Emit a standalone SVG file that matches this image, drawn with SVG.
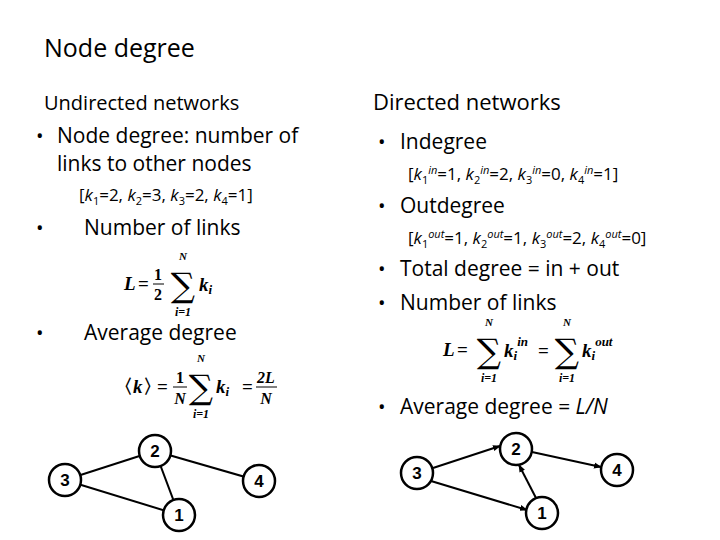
<svg xmlns="http://www.w3.org/2000/svg" width="720" height="540" viewBox="0 0 720 540">
<style>
.t{font-family:"Open Sans","Liberation Sans",sans-serif;fill:#000}
.m{font-family:"Liberation Serif",serif;font-weight:bold;font-style:italic;fill:#000}
.r{font-family:"Liberation Serif",serif;font-weight:bold;fill:#000}
.s{font-family:"DejaVu Serif",serif;fill:#000;text-anchor:middle}
.n circle{fill:#fff;stroke:#000;stroke-width:2.5}
.n text{font-family:"Liberation Sans",sans-serif;font-weight:bold;font-size:17px;text-anchor:middle}
.e line{stroke:#000;stroke-width:2}
</style>
<defs><marker id="a" markerWidth="8" markerHeight="8" refX="7" refY="4" orient="auto" markerUnits="userSpaceOnUse"><path d="M0,1 L8,4 L0,7z"/></marker></defs>
<rect width="720" height="540" fill="#fff"/>
<text class="t" x="44" y="57" font-size="25">Node degree</text>
<text class="t" x="44" y="110" font-size="20">Undirected networks</text>
<text class="t" x="36" y="143" font-size="20">•</text>
<text class="t" x="57" y="143" font-size="21">Node degree: number of</text>
<text class="t" x="57" y="171" font-size="21">links to other nodes</text>
<text class="t" x="79" y="201" font-size="17">[<tspan font-style="italic">k</tspan><tspan font-size="11" dy="4">1</tspan><tspan dy="-4">=2, </tspan><tspan font-style="italic">k</tspan><tspan font-size="11" dy="4">2</tspan><tspan dy="-4">=3, </tspan><tspan font-style="italic">k</tspan><tspan font-size="11" dy="4">3</tspan><tspan dy="-4">=2, </tspan><tspan font-style="italic">k</tspan><tspan font-size="11" dy="4">4</tspan><tspan dy="-4">=1]</tspan></text>
<text class="t" x="36" y="235" font-size="20">•</text>
<text class="t" x="84" y="235" font-size="21">Number of links</text>
<text class="m" x="124" y="290" font-size="19">L</text><text class="r" x="138" y="290" font-size="19">=</text>
<text class="r" x="158" y="280" font-size="16" text-anchor="middle">1</text><line x1="153" y1="284" x2="164" y2="284" stroke="#000"/><text class="r" x="158" y="300" font-size="16" text-anchor="middle">2</text>
<text class="s" x="183" y="297" font-size="34">∑</text><text class="m" x="183" y="260" font-size="11" text-anchor="middle">N</text><text class="m" x="183" y="316" font-size="12" text-anchor="middle">i=1</text>
<text class="m" x="199" y="291" font-size="19">k<tspan font-size="13" dy="3">i</tspan></text>
<text class="t" x="36" y="340" font-size="20">•</text>
<text class="t" x="84" y="340" font-size="21">Average degree</text>
<text class="r" x="114" y="393" font-size="19">〈<tspan font-style="italic">k</tspan>〉</text><text class="r" x="157" y="393" font-size="19">=</text>
<text class="r" x="180" y="383" font-size="16" text-anchor="middle">1</text><line x1="173" y1="387" x2="187" y2="387" stroke="#000"/><text class="m" x="180" y="404" font-size="16" text-anchor="middle">N</text>
<text class="s" x="201" y="399" font-size="34">∑</text><text class="m" x="201" y="362" font-size="11" text-anchor="middle">N</text><text class="m" x="201" y="418" font-size="12" text-anchor="middle">i=1</text>
<text class="m" x="216" y="393" font-size="19">k<tspan font-size="13" dy="3">i</tspan></text><text class="r" x="242" y="393" font-size="19">=</text>
<text class="m" x="266" y="383" font-size="16" text-anchor="middle">2L</text><line x1="256" y1="387" x2="277" y2="387" stroke="#000"/><text class="m" x="266" y="404" font-size="16" text-anchor="middle">N</text>

<text class="t" x="373" y="110" font-size="22">Directed networks</text>
<text class="t" x="378" y="149" font-size="20">•</text><text class="t" x="400" y="149" font-size="21">Indegree</text>
<text class="t" x="408" y="180" font-size="17">[<tspan font-style="italic">k</tspan><tspan font-size="11" dy="4">1</tspan><tspan font-size="11" dy="-10" font-style="italic">in</tspan><tspan dy="6">=1, </tspan><tspan font-style="italic">k</tspan><tspan font-size="11" dy="4">2</tspan><tspan font-size="11" dy="-10" font-style="italic">in</tspan><tspan dy="6">=2, </tspan><tspan font-style="italic">k</tspan><tspan font-size="11" dy="4">3</tspan><tspan font-size="11" dy="-10" font-style="italic">in</tspan><tspan dy="6">=0, </tspan><tspan font-style="italic">k</tspan><tspan font-size="11" dy="4">4</tspan><tspan font-size="11" dy="-10" font-style="italic">in</tspan><tspan dy="6">=1]</tspan></text>
<text class="t" x="378" y="213" font-size="20">•</text><text class="t" x="400" y="213" font-size="21">Outdegree</text>
<text class="t" x="408" y="244" font-size="17">[<tspan font-style="italic">k</tspan><tspan font-size="11" dy="4">1</tspan><tspan font-size="11" dy="-10" font-style="italic">out</tspan><tspan dy="6">=1, </tspan><tspan font-style="italic">k</tspan><tspan font-size="11" dy="4">2</tspan><tspan font-size="11" dy="-10" font-style="italic">out</tspan><tspan dy="6">=1, </tspan><tspan font-style="italic">k</tspan><tspan font-size="11" dy="4">3</tspan><tspan font-size="11" dy="-10" font-style="italic">out</tspan><tspan dy="6">=2, </tspan><tspan font-style="italic">k</tspan><tspan font-size="11" dy="4">4</tspan><tspan font-size="11" dy="-10" font-style="italic">out</tspan><tspan dy="6">=0]</tspan></text>
<text class="t" x="378" y="276" font-size="20">•</text><text class="t" x="400" y="276" font-size="21">Total degree = in + out</text>
<text class="t" x="378" y="310" font-size="20">•</text><text class="t" x="400" y="310" font-size="21">Number of links</text>
<text class="m" x="443" y="356" font-size="19">L</text><text class="r" x="457" y="356" font-size="19">=</text>
<text class="s" x="489" y="363" font-size="34">∑</text><text class="m" x="489" y="326" font-size="11" text-anchor="middle">N</text><text class="m" x="489" y="382" font-size="12" text-anchor="middle">i=1</text>
<text class="m" x="504" y="357" font-size="19">k<tspan font-size="13" dy="3">i</tspan><tspan font-size="13" dy="-14">in</tspan></text><text class="r" x="538" y="357" font-size="19">=</text>
<text class="s" x="567" y="363" font-size="34">∑</text><text class="m" x="567" y="326" font-size="11" text-anchor="middle">N</text><text class="m" x="567" y="382" font-size="12" text-anchor="middle">i=1</text>
<text class="m" x="582" y="357" font-size="19">k<tspan font-size="13" dy="3">i</tspan><tspan font-size="13" dy="-14">out</tspan></text>
<text class="t" x="378" y="414" font-size="20">•</text><text class="t" x="400" y="414" font-size="21">Average degree = <tspan font-style="italic">L/N</tspan></text>

<g id="connectors" class="e">
<line x1="65" y1="480" x2="155" y2="451"/><line x1="155" y1="451" x2="259" y2="481"/><line x1="155" y1="451" x2="179" y2="515"/><line x1="65" y1="480" x2="179" y2="515"/>
<line x1="433" y1="468" x2="500" y2="446" marker-end="url(#a)"/>
<line x1="532" y1="452" x2="601" y2="467" marker-end="url(#a)"/>
<line x1="536" y1="498" x2="519" y2="465" marker-end="url(#a)"/>
<line x1="431" y1="481" x2="527" y2="510" marker-end="url(#a)"/>
</g>
<g id="u2" class="n"><circle cx="155" cy="451" r="16"/><text x="155" y="457">2</text></g>
<g id="u3" class="n"><circle cx="65" cy="480" r="16"/><text x="65" y="486">3</text></g>
<g id="u4" class="n"><circle cx="259" cy="481" r="16"/><text x="259" y="487">4</text></g>
<g id="u1" class="n"><circle cx="179" cy="515" r="16"/><text x="179" y="521">1</text></g>
<g id="d2" class="n"><circle cx="516" cy="449" r="16"/><text x="516" y="455">2</text></g>
<g id="d3" class="n"><circle cx="417" cy="473" r="16"/><text x="417" y="479">3</text></g>
<g id="d4" class="n"><circle cx="617" cy="470" r="16"/><text x="617" y="476">4</text></g>
<g id="d1" class="n"><circle cx="542" cy="513" r="16"/><text x="542" y="519">1</text></g>
</svg>
